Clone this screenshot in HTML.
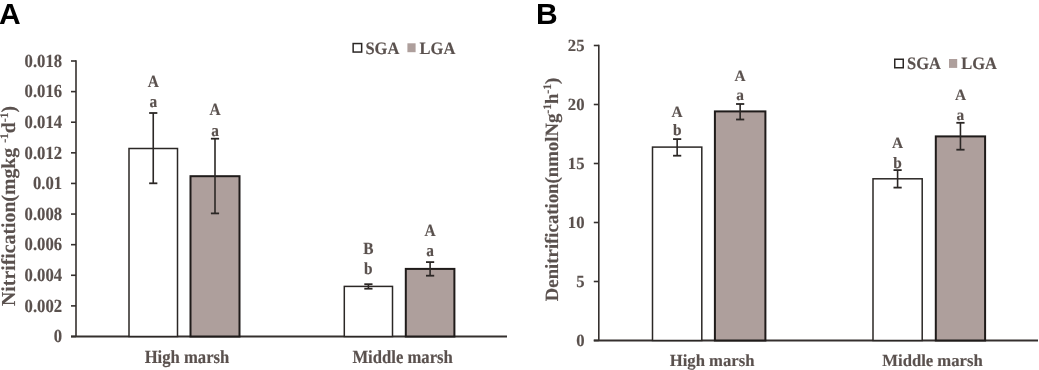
<!DOCTYPE html>
<html><head><meta charset="utf-8"><style>
html,body{margin:0;padding:0;background:#fff;}
body{width:1039px;height:370px;overflow:hidden;position:relative;}
svg{position:absolute;left:0;top:0;will-change:transform;}
.t{font-family:"Liberation Serif", serif;font-weight:bold;fill:#5a514e;stroke:#5a514e;stroke-width:0.15px;text-rendering:geometricPrecision;}
.p{font-family:"Liberation Sans",sans-serif;font-weight:bold;fill:#000;}
</style></head><body>
<svg width="1039" height="370" viewBox="0 0 1039 370">
<line x1="71" y1="336.5" x2="76" y2="336.5" stroke="#35302e" stroke-width="1.6"/>
<text class="t" transform="translate(62.1,342.3) scale(0.98,1.09)" font-size="17" text-anchor="end">0</text>
<line x1="71" y1="305.89" x2="76" y2="305.89" stroke="#35302e" stroke-width="1.6"/>
<text class="t" transform="translate(62.1,311.69) scale(0.98,1.09)" font-size="17" text-anchor="end">0.002</text>
<line x1="71" y1="275.28" x2="76" y2="275.28" stroke="#35302e" stroke-width="1.6"/>
<text class="t" transform="translate(62.1,281.08) scale(0.98,1.09)" font-size="17" text-anchor="end">0.004</text>
<line x1="71" y1="244.67" x2="76" y2="244.67" stroke="#35302e" stroke-width="1.6"/>
<text class="t" transform="translate(62.1,250.47) scale(0.98,1.09)" font-size="17" text-anchor="end">0.006</text>
<line x1="71" y1="214.06" x2="76" y2="214.06" stroke="#35302e" stroke-width="1.6"/>
<text class="t" transform="translate(62.1,219.86) scale(0.98,1.09)" font-size="17" text-anchor="end">0.008</text>
<line x1="71" y1="183.44" x2="76" y2="183.44" stroke="#35302e" stroke-width="1.6"/>
<text class="t" transform="translate(62.1,189.24) scale(0.98,1.09)" font-size="17" text-anchor="end">0.01</text>
<line x1="71" y1="152.83" x2="76" y2="152.83" stroke="#35302e" stroke-width="1.6"/>
<text class="t" transform="translate(62.1,158.63) scale(0.98,1.09)" font-size="17" text-anchor="end">0.012</text>
<line x1="71" y1="122.22" x2="76" y2="122.22" stroke="#35302e" stroke-width="1.6"/>
<text class="t" transform="translate(62.1,128.02) scale(0.98,1.09)" font-size="17" text-anchor="end">0.014</text>
<line x1="71" y1="91.61" x2="76" y2="91.61" stroke="#35302e" stroke-width="1.6"/>
<text class="t" transform="translate(62.1,97.41) scale(0.98,1.09)" font-size="17" text-anchor="end">0.016</text>
<line x1="71" y1="61" x2="76" y2="61" stroke="#35302e" stroke-width="1.6"/>
<text class="t" transform="translate(62.1,66.8) scale(0.98,1.09)" font-size="17" text-anchor="end">0.018</text>
<line x1="76" y1="60.2" x2="76" y2="336.5" stroke="#35302e" stroke-width="1.6"/>
<line x1="71" y1="336.5" x2="507" y2="336.5" stroke="#35302e" stroke-width="1.8"/>
<rect x="129" y="148.5" width="48.5" height="188" fill="#fff" stroke="#2b2725" stroke-width="1.5"/>
<line x1="153.25" y1="113" x2="153.25" y2="183.3" stroke="#2b2725" stroke-width="1.6"/>
<line x1="149.15" y1="113" x2="157.35" y2="113" stroke="#2b2725" stroke-width="1.8"/>
<line x1="149.15" y1="183.3" x2="157.35" y2="183.3" stroke="#2b2725" stroke-width="1.8"/>
<text class="t" transform="translate(153.25,87) scale(0.96,1.06)" font-size="16" text-anchor="middle">A</text>
<text class="t" transform="translate(153.25,107) scale(0.96,1.06)" font-size="16" text-anchor="middle">a</text>
<rect x="190.5" y="176.2" width="49" height="160.3" fill="#ae9f9c" stroke="#1f1b1a" stroke-width="2"/>
<line x1="215" y1="138.7" x2="215" y2="213.4" stroke="#2b2725" stroke-width="1.6"/>
<line x1="210.9" y1="138.7" x2="219.1" y2="138.7" stroke="#2b2725" stroke-width="1.8"/>
<line x1="210.9" y1="213.4" x2="219.1" y2="213.4" stroke="#2b2725" stroke-width="1.8"/>
<text class="t" transform="translate(215,115.2) scale(0.96,1.06)" font-size="16" text-anchor="middle">A</text>
<text class="t" transform="translate(215,135.7) scale(0.96,1.06)" font-size="16" text-anchor="middle">a</text>
<rect x="344.3" y="286.4" width="48.2" height="50.1" fill="#fff" stroke="#2b2725" stroke-width="1.5"/>
<line x1="368.4" y1="284.2" x2="368.4" y2="288.7" stroke="#2b2725" stroke-width="1.6"/>
<line x1="364.3" y1="284.2" x2="372.5" y2="284.2" stroke="#2b2725" stroke-width="1.8"/>
<line x1="364.3" y1="288.7" x2="372.5" y2="288.7" stroke="#2b2725" stroke-width="1.8"/>
<text class="t" transform="translate(368.4,253.7) scale(0.96,1.06)" font-size="16" text-anchor="middle">B</text>
<text class="t" transform="translate(368.4,274.4) scale(0.96,1.06)" font-size="16" text-anchor="middle">b</text>
<rect x="405.8" y="268.9" width="48.6" height="67.6" fill="#ae9f9c" stroke="#1f1b1a" stroke-width="2"/>
<line x1="430.1" y1="262.1" x2="430.1" y2="275.7" stroke="#2b2725" stroke-width="1.6"/>
<line x1="426" y1="262.1" x2="434.2" y2="262.1" stroke="#2b2725" stroke-width="1.8"/>
<line x1="426" y1="275.7" x2="434.2" y2="275.7" stroke="#2b2725" stroke-width="1.8"/>
<text class="t" transform="translate(430.1,236.2) scale(0.96,1.06)" font-size="16" text-anchor="middle">A</text>
<text class="t" transform="translate(430.1,256.3) scale(0.96,1.06)" font-size="16" text-anchor="middle">a</text>
<text class="t" transform="translate(187,363.1) scale(0.98,1.09)" font-size="17" text-anchor="middle">High marsh</text>
<text class="t" transform="translate(402.6,363.1) scale(0.98,1.09)" font-size="17" text-anchor="middle">Middle marsh</text>
<text class="t" transform="translate(14.9,206) rotate(-90)" font-size="19.8" text-anchor="middle">Nitrification(mgkg <tspan font-size="11.5" dy="-7">-1</tspan><tspan dy="7">d</tspan><tspan font-size="11.5" dy="-7">-1</tspan><tspan dy="7">)</tspan></text>
<rect x="353.15" y="43.55" width="8.5" height="8.5" fill="#fff" stroke="#2b2725" stroke-width="1.5"/>
<text class="t" transform="translate(365.4,53.6) scale(0.97,1.03)" font-size="17" text-anchor="start">SGA</text>
<rect x="407.4" y="43.3" width="8.2" height="8.9" fill="#ae9f9c"/>
<text class="t" transform="translate(419.6,53.6) scale(0.97,1.03)" font-size="17" text-anchor="start">LGA</text>
<line x1="593.8" y1="340.5" x2="598.8" y2="340.5" stroke="#35302e" stroke-width="1.6"/>
<text class="t" transform="translate(584.5,346.3) scale(0.98,1.0)" font-size="17" text-anchor="end">0</text>
<line x1="593.8" y1="281.5" x2="598.8" y2="281.5" stroke="#35302e" stroke-width="1.6"/>
<text class="t" transform="translate(584.5,287.3) scale(0.98,1.0)" font-size="17" text-anchor="end">5</text>
<line x1="593.8" y1="222.5" x2="598.8" y2="222.5" stroke="#35302e" stroke-width="1.6"/>
<text class="t" transform="translate(584.5,228.3) scale(0.98,1.0)" font-size="17" text-anchor="end">10</text>
<line x1="593.8" y1="163.5" x2="598.8" y2="163.5" stroke="#35302e" stroke-width="1.6"/>
<text class="t" transform="translate(584.5,169.3) scale(0.98,1.0)" font-size="17" text-anchor="end">15</text>
<line x1="593.8" y1="104.5" x2="598.8" y2="104.5" stroke="#35302e" stroke-width="1.6"/>
<text class="t" transform="translate(584.5,110.3) scale(0.98,1.0)" font-size="17" text-anchor="end">20</text>
<line x1="593.8" y1="45.5" x2="598.8" y2="45.5" stroke="#35302e" stroke-width="1.6"/>
<text class="t" transform="translate(584.5,51.3) scale(0.98,1.0)" font-size="17" text-anchor="end">25</text>
<line x1="598.8" y1="44.7" x2="598.8" y2="340.5" stroke="#35302e" stroke-width="1.6"/>
<line x1="593.8" y1="340.5" x2="1038" y2="340.5" stroke="#35302e" stroke-width="1.8"/>
<rect x="652.5" y="147.1" width="49.3" height="193.4" fill="#fff" stroke="#2b2725" stroke-width="1.5"/>
<line x1="677.15" y1="139.1" x2="677.15" y2="155.7" stroke="#2b2725" stroke-width="1.6"/>
<line x1="673.05" y1="139.1" x2="681.25" y2="139.1" stroke="#2b2725" stroke-width="1.8"/>
<line x1="673.05" y1="155.7" x2="681.25" y2="155.7" stroke="#2b2725" stroke-width="1.8"/>
<text class="t" transform="translate(677.15,116.5) scale(0.96,0.98)" font-size="16" text-anchor="middle">A</text>
<text class="t" transform="translate(677.15,134.9) scale(0.96,0.98)" font-size="16" text-anchor="middle">b</text>
<rect x="714.9" y="111.4" width="50.5" height="229.1" fill="#ae9f9c" stroke="#1f1b1a" stroke-width="2"/>
<line x1="740.15" y1="104" x2="740.15" y2="119.5" stroke="#2b2725" stroke-width="1.6"/>
<line x1="736.05" y1="104" x2="744.25" y2="104" stroke="#2b2725" stroke-width="1.8"/>
<line x1="736.05" y1="119.5" x2="744.25" y2="119.5" stroke="#2b2725" stroke-width="1.8"/>
<text class="t" transform="translate(740.15,80.8) scale(0.96,0.98)" font-size="16" text-anchor="middle">A</text>
<text class="t" transform="translate(740.15,100.1) scale(0.96,0.98)" font-size="16" text-anchor="middle">a</text>
<rect x="873" y="178.8" width="49.2" height="161.7" fill="#fff" stroke="#2b2725" stroke-width="1.5"/>
<line x1="897.6" y1="170.1" x2="897.6" y2="187.6" stroke="#2b2725" stroke-width="1.6"/>
<line x1="893.5" y1="170.1" x2="901.7" y2="170.1" stroke="#2b2725" stroke-width="1.8"/>
<line x1="893.5" y1="187.6" x2="901.7" y2="187.6" stroke="#2b2725" stroke-width="1.8"/>
<text class="t" transform="translate(897.6,148) scale(0.96,0.98)" font-size="16" text-anchor="middle">A</text>
<text class="t" transform="translate(897.6,167.5) scale(0.96,0.98)" font-size="16" text-anchor="middle">b</text>
<rect x="935.8" y="136.4" width="49.3" height="204.1" fill="#ae9f9c" stroke="#1f1b1a" stroke-width="2"/>
<line x1="960.45" y1="122.8" x2="960.45" y2="149.7" stroke="#2b2725" stroke-width="1.6"/>
<line x1="956.35" y1="122.8" x2="964.55" y2="122.8" stroke="#2b2725" stroke-width="1.8"/>
<line x1="956.35" y1="149.7" x2="964.55" y2="149.7" stroke="#2b2725" stroke-width="1.8"/>
<text class="t" transform="translate(960.45,100.1) scale(0.96,0.98)" font-size="16" text-anchor="middle">A</text>
<text class="t" transform="translate(960.45,119.5) scale(0.96,0.98)" font-size="16" text-anchor="middle">a</text>
<text class="t" transform="translate(712.1,365.8) scale(0.98,1.0)" font-size="17" text-anchor="middle">High marsh</text>
<text class="t" transform="translate(932.5,365.7) scale(0.98,1.0)" font-size="17" text-anchor="middle">Middle marsh</text>
<text class="t" transform="translate(558,189.5) rotate(-90)" font-size="18.75" text-anchor="middle">Denitrification(nmolNg<tspan font-size="11.5" dy="-7">-1</tspan><tspan dy="7">h</tspan><tspan font-size="11.5" dy="-7">-1</tspan><tspan dy="7">)</tspan></text>
<rect x="894.75" y="59.25" width="8.5" height="8.5" fill="#fff" stroke="#2b2725" stroke-width="1.5"/>
<text class="t" transform="translate(907,69.4) scale(0.97,1.03)" font-size="17" text-anchor="start">SGA</text>
<rect x="949" y="59" width="8.2" height="8.9" fill="#ae9f9c"/>
<text class="t" transform="translate(961.2,69.4) scale(0.97,1.03)" font-size="17" text-anchor="start">LGA</text>
<text class="p" x="-1" y="24" font-size="30">A</text>
<text class="p" x="536" y="24" font-size="30">B</text>
</svg></body></html>
